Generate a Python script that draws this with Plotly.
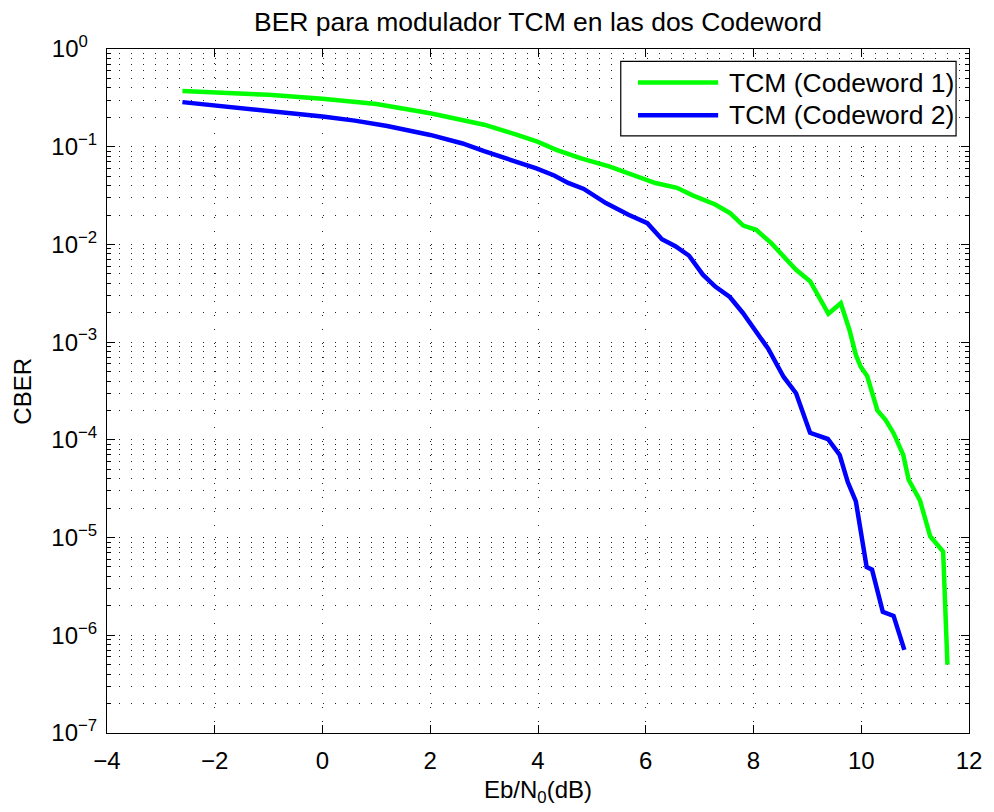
import plotly.graph_objects as go

# Eb/N0 (dB) and coded BER for the two codewords
ebn0_cw1 = [-2.6, -2.0, -1.0, 0.0, 1.0, 2.0, 3.0, 3.6, 4.0, 4.34, 4.8, 5.32, 5.57,
            5.8, 6.18, 6.58, 6.86, 7.29, 7.56, 7.81, 8.05, 8.33, 8.58, 8.79, 9.05,
            9.39, 9.62, 9.78, 9.9, 9.99, 10.11, 10.3, 10.45, 10.6, 10.78, 10.88,
            11.09, 11.28, 11.52, 11.6]
cber_cw1 = [0.372, 0.362, 0.34, 0.31, 0.273, 0.22, 0.168, 0.133, 0.112, 0.093, 0.076,
            0.063, 0.056, 0.05, 0.0425, 0.038, 0.032, 0.0256, 0.021, 0.0156, 0.0141,
            0.0103, 0.0074, 0.0055, 0.0042, 0.00195, 0.0025, 0.00134, 7.4e-4, 5.6e-4,
            4.5e-4, 2.0e-4, 1.6e-4, 1.17e-4, 7.0e-5, 3.9e-5, 2.4e-5, 1.03e-5, 7.2e-6,
            5.0e-7]

ebn0_cw2 = [-2.6, -2.0, -1.0, 0.0, 0.6, 1.2, 2.0, 2.6, 3.0, 3.3, 3.6, 3.97, 4.3, 4.56,
            4.85, 5.26, 5.68, 6.03, 6.3, 6.55, 6.8, 7.06, 7.29, 7.56, 7.8, 8.02, 8.27,
            8.56, 8.79, 9.05, 9.38, 9.6, 9.75, 9.9, 9.99, 10.1, 10.2, 10.33, 10.4,
            10.6, 10.8]
cber_cw2 = [0.286, 0.265, 0.235, 0.204, 0.185, 0.163, 0.132, 0.108, 0.09, 0.079, 0.071,
            0.06, 0.0508, 0.0426, 0.037, 0.0265, 0.0201, 0.0165, 0.0113, 0.0096,
            0.0077, 0.0049, 0.0037, 0.0029, 0.002, 0.00135, 8.6e-4, 4.4e-4, 3.0e-4,
            1.18e-4, 1.02e-4, 7.0e-5, 3.7e-5, 2.35e-5, 1.2e-5, 5.0e-6, 4.7e-6,
            2.3e-6, 1.74e-6, 1.58e-6, 7.1e-7]

series_names = ["TCM (Codeword 1)", "TCM (Codeword 2)"]
series_colors = ["#00ff00", "#0000ff"]

x_ticks = [-4, -2, 0, 2, 4, 6, 8, 10, 12]
y_exponents = [-7, -6, -5, -4, -3, -2, -1, 0]

FONT = "Liberation Sans, Arial, Helvetica, sans-serif"
TICK_SIZE = 24


def minus(v):
    return str(v).replace("-", "\u2212")


def power_label(e):
    # pad the single-digit exponent so every "10" starts at the same place
    sup = minus(e) if e < 0 else minus(e) + "\u2007"
    return "10<sup>%s</sup>" % sup


fig = go.Figure()
for xs, ys, name, color in [(ebn0_cw1, cber_cw1, series_names[0], series_colors[0]),
                            (ebn0_cw2, cber_cw2, series_names[1], series_colors[1])]:
    fig.add_trace(go.Scatter(x=xs, y=ys, mode="lines", name=name,
                             line=dict(color=color, width=4.5),
                             showlegend=False))

minor_vals = [m * 10.0 ** e for e in y_exponents[:-1] for m in range(2, 10)]
GRID = "#222222"

fig.update_xaxes(
    range=[-4, 12], tickmode="array", tickvals=x_ticks,
    ticktext=[minus(v) for v in x_ticks],
    ticks="inside", ticklen=8, tickcolor="black", mirror="allticks",
    showline=True, linecolor="black", linewidth=1,
    showgrid=True, gridcolor=GRID, griddash="1px,13px", gridwidth=1,
    zeroline=False, ticklabelstandoff=6,
    tickfont=dict(family=FONT, size=TICK_SIZE, color="black"),
    title=dict(text="Eb/N<sub>0</sub>(dB)",
               font=dict(family=FONT, size=TICK_SIZE, color="black"), standoff=8),
)
fig.update_yaxes(
    type="log", range=[-7, 0], tickmode="array",
    tickvals=[10.0 ** e for e in y_exponents],
    ticktext=[power_label(e) for e in y_exponents],
    ticks="inside", ticklen=8, tickcolor="black", mirror="allticks",
    showline=True, linecolor="black", linewidth=1,
    showgrid=True, gridcolor=GRID, griddash="1px,11px", gridwidth=1,
    zeroline=False, ticklabelstandoff=4,
    minor=dict(tickvals=minor_vals, ticks="inside", ticklen=4, tickcolor="black",
               showgrid=True, gridcolor=GRID, griddash="1px,11px", gridwidth=1),
    tickfont=dict(family=FONT, size=TICK_SIZE, color="black"),
)

# y-axis label
fig.add_annotation(xref="paper", yref="y domain", x=-86 / 869, y=0.5,
                   xanchor="center", yanchor="middle", showarrow=False, textangle=-90,
                   text="CBER", font=dict(family=FONT, size=TICK_SIZE, color="black"))

# Boxed legend in the upper-right corner of the axes
legend_box = dict(x0=0.596, x1=0.985, y0=0.873, y1=0.982)
fig.add_shape(type="rect", xref="x domain", yref="y domain", layer="above",
              line=dict(color="black", width=1.2), fillcolor="white", **legend_box)
for i, (name, color) in enumerate(zip(series_names, series_colors)):
    yy = 0.951 - i * 0.048
    fig.add_shape(type="line", xref="x domain", yref="y domain", layer="above",
                  x0=0.616, x1=0.709, y0=yy, y1=yy, line=dict(color=color, width=4.5))
    fig.add_annotation(xref="x domain", yref="y domain", x=0.719, y=yy,
                       xanchor="left", yanchor="middle", showarrow=False,
                       text=name, font=dict(family=FONT, size=26.5, color="black"))

fig.update_layout(
    width=994, height=812,
    margin=dict(l=107, r=18, t=49, b=79),
    paper_bgcolor="white", plot_bgcolor="white",
    title=dict(text="BER para modulador TCM en las dos Codeword",
               x=0.5, xref="paper", y=1 - 22 / 812, yref="container",
               xanchor="center", yanchor="middle",
               font=dict(family=FONT, size=26.5, color="black")),
)

fig.write_html("out.html")
